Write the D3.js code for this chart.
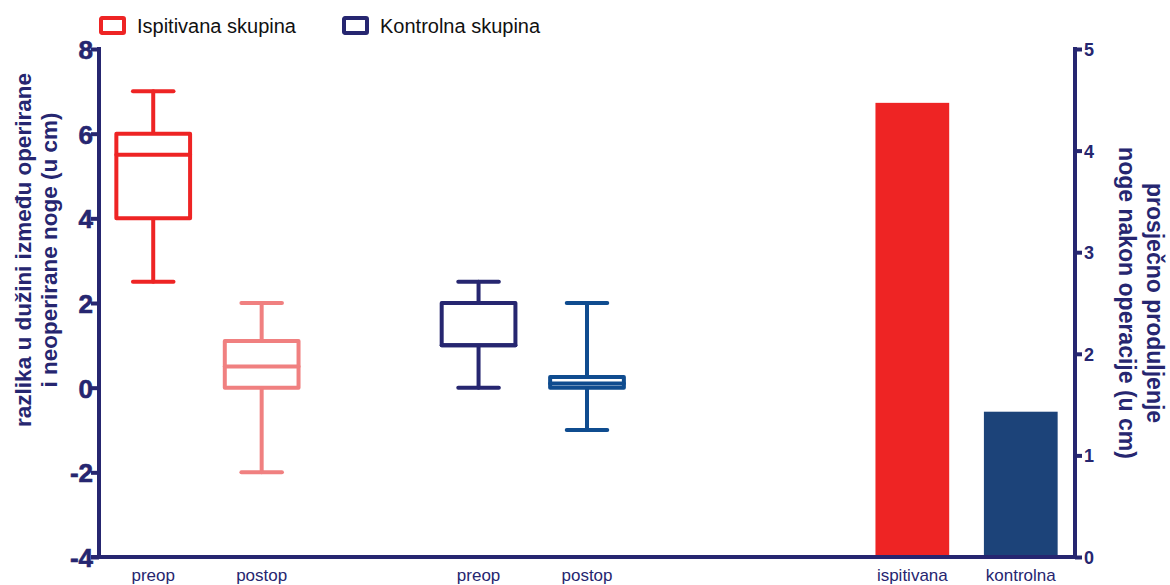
<!DOCTYPE html>
<html>
<head>
<meta charset="utf-8">
<script src="https://cdn.jsdelivr.net/npm/d3@7"></script>
<style>
  body { margin: 0; background: #fff; }
  text { font-family: "Liberation Sans", Arial, sans-serif; }
</style>
</head>
<body>
<div class="svg"></div>
<script>
var d3 = window.d3;
var w = 1170, h = 585;

// slots along the x axis (gaps are empty slots)
var slots = ["s0", "s1", "s2", "s3", "s4", "s5", "s6", "s7", "s8"];

// box plots
var boxSlots = ["s0", "s1", "s3", "s4"];
var boxLabels = ["preop", "postop", "preop", "postop"];
var boxMin = [2.5, -2, 0, -1];
var boxQ1 = [4, 0, 1, 0];
var boxMed = [5.5, 0.5, 1, 0.1];
var boxQ3 = [6, 1.1, 2, 0.25];
var boxMax = [7, 2, 2.5, 2];
var boxColors = ["#ee2424", "#f08080", "#262670", "#0f4c8f"];

// bars (right axis)
var barSlots = ["s7", "s8"];
var barLabels = ["ispitivana", "kontrolna"];
var barValues = [4.47, 1.43];
var barColors = ["#ee2424", "#1c4379"];

var leftTicks = [-4, -2, 0, 2, 4, 6, 8];
var rightTicks = [0, 1, 2, 3, 4, 5];

var legendLabels = ["Ispitivana skupina", "Kontrolna skupina"];
var legendColors = ["#ee2424", "#262670"];

var navy = "#262670";
var plot = { left: 99, right: 1075, top: 49, bottom: 557 };

var svg = d3.select(".svg").append("svg").attr("width", w).attr("height", h);

var x = d3.scaleBand().domain(slots).range([plot.left, plot.right]).paddingInner(0.32).paddingOuter(0.16);
var yL = d3.scaleLinear().domain([-4, 8]).range([plot.bottom, plot.top]);
var yR = d3.scaleLinear().domain([0, 5]).range([plot.bottom, plot.top]);
var bw = x.bandwidth();
var capW = bw * 0.55;

// bars
svg.selectAll(".bar")
   .data(barValues)
   .enter()
   .append("rect")
   .attr("class", "bar")
   .attr("x", function(d, i) { return x(barSlots[i]); })
   .attr("width", bw)
   .attr("y", function(d) { return yR(d); })
   .attr("height", function(d) { return yR(0) - yR(d); })
   .attr("fill", function(d, i) { return barColors[i]; });

// box plots
var boxes = svg.selectAll(".box")
   .data(boxSlots)
   .enter()
   .append("g")
   .attr("class", "box")
   .attr("stroke", function(d, i) { return boxColors[i]; })
   .attr("stroke-width", 4)
   .attr("fill", "none")
   .attr("stroke-linecap", "round")
   .attr("stroke-linejoin", "round");

boxes.each(function(d, i) {
  var g = d3.select(this);
  var x0 = x(d), cx = x0 + bw / 2;
  g.append("line").attr("x1", cx).attr("x2", cx).attr("y1", yL(boxMax[i])).attr("y2", yL(boxQ3[i]));
  g.append("line").attr("x1", cx).attr("x2", cx).attr("y1", yL(boxQ1[i])).attr("y2", yL(boxMin[i]));
  g.append("line").attr("x1", cx - capW / 2).attr("x2", cx + capW / 2).attr("y1", yL(boxMax[i])).attr("y2", yL(boxMax[i]));
  g.append("line").attr("x1", cx - capW / 2).attr("x2", cx + capW / 2).attr("y1", yL(boxMin[i])).attr("y2", yL(boxMin[i]));
  g.append("rect").attr("x", x0).attr("width", bw)
   .attr("y", yL(boxQ3[i])).attr("height", yL(boxQ1[i]) - yL(boxQ3[i]))
   .attr("fill", "#fff");
  g.append("line").attr("x1", x0).attr("x2", x0 + bw).attr("y1", yL(boxMed[i])).attr("y2", yL(boxMed[i]));
});

// axes
var axisL = svg.append("g")
   .attr("transform", "translate(" + plot.left + ",0)")
   .call(d3.axisLeft(yL).tickValues(leftTicks).tickSize(8).tickFormat(function(d) { return String(d); }));
var axisR = svg.append("g")
   .attr("transform", "translate(" + plot.right + ",0)")
   .call(d3.axisRight(yR).tickValues(rightTicks).tickSize(7).tickFormat(function(d) { return String(d); }));

[axisL, axisR].forEach(function(a) {
  a.select(".domain").remove();
  a.selectAll(".tick line").attr("stroke", navy).attr("stroke-width", 4);
  a.selectAll(".tick text").attr("fill", navy).attr("font-weight", "bold");
});
axisL.selectAll(".tick text").attr("font-size", 26).attr("x", -6).attr("dy", "0.36em")
     .attr("stroke", navy).attr("stroke-width", 0.6);
axisR.selectAll(".tick text").attr("font-size", 18).attr("x", 9).attr("dy", "0.36em");

svg.append("line").attr("x1", plot.left).attr("x2", plot.left).attr("y1", plot.top - 2).attr("y2", plot.bottom + 2)
   .attr("stroke", navy).attr("stroke-width", 4);
svg.append("line").attr("x1", plot.right).attr("x2", plot.right).attr("y1", plot.top - 2).attr("y2", plot.bottom + 2)
   .attr("stroke", navy).attr("stroke-width", 4);
svg.append("line").attr("x1", plot.left - 8).attr("x2", plot.right + 2).attr("y1", plot.bottom).attr("y2", plot.bottom)
   .attr("stroke", navy).attr("stroke-width", 4);

// category labels
var catSlots = boxSlots.concat(barSlots);
var catLabels = boxLabels.concat(barLabels);
svg.selectAll(".cat")
   .data(catLabels)
   .enter()
   .append("text")
   .attr("class", "cat")
   .attr("x", function(d, i) { return x(catSlots[i]) + bw / 2; })
   .attr("y", 581)
   .attr("text-anchor", "middle")
   .attr("font-size", 17)
   .attr("fill", navy)
   .text(function(d) { return d; });

// axis titles
var tl = svg.append("text")
   .attr("transform", "translate(31,250) rotate(-90)")
   .attr("text-anchor", "middle")
   .attr("font-size", 22.5)
   .attr("font-weight", "bold")
   .attr("fill", navy);
tl.append("tspan").attr("x", 0).attr("dy", 0).text("razlika u dužini između operirane");
tl.append("tspan").attr("x", 0).attr("dy", 26).text("i neoperirane noge (u cm)");

var tr = svg.append("text")
   .attr("transform", "translate(1147,303) rotate(90)")
   .attr("text-anchor", "middle")
   .attr("font-size", 23)
   .attr("font-weight", "bold")
   .attr("fill", navy);
tr.append("tspan").attr("x", 0).attr("dy", 0).text("prosječno produljenje");
tr.append("tspan").attr("x", 0).attr("dy", 28).text("noge nakon operacije (u cm)");

// legend
var legendX = [100, 343];
var lg = svg.selectAll(".legend")
   .data(legendLabels)
   .enter()
   .append("g")
   .attr("class", "legend")
   .attr("transform", function(d, i) { return "translate(" + legendX[i] + ",17)"; });
lg.append("rect").attr("x", 1).attr("y", 1).attr("width", 23).attr("height", 15)
  .attr("rx", 1).attr("fill", "none").attr("stroke-width", 4)
  .attr("stroke", function(d, i) { return legendColors[i]; });
lg.append("text").attr("x", 37).attr("y", 16).attr("font-size", 20).attr("fill", "#111")
  .text(function(d) { return d; });
</script>
</body>
</html>
